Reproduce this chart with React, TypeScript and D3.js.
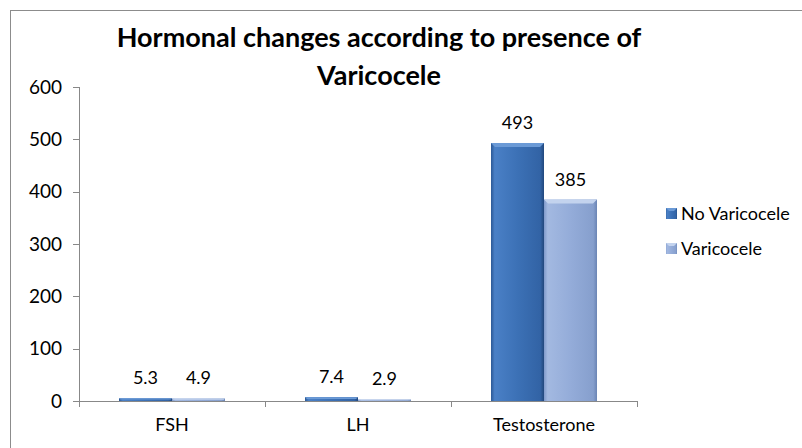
import React from "react";
import * as d3 from "d3";

const categories = ["FSH", "LH", "Testosterone"];
const seriesNames = ["No Varicocele", "Varicocele"];
const noVaricocele = [5.3, 7.4, 493];
const varicocele = [4.9, 2.9, 385];
const valueLabels = [["5.3", "7.4", "493"], ["4.9", "2.9", "385"]];
const yTicks = [0, 100, 200, 300, 400, 500, 600];
const titleLines = ["Hormonal changes according to presence of", "Varicocele"];

const W = 802;
const H = 448;
const plot = { left: 79, right: 637, top: 87, bottom: 401 };
const FONT = "Lato, 'Open Sans', sans-serif";

export default function App() {
  const series = [noVaricocele, varicocele];
  const x = d3.scaleBand<string>().domain(categories).range([plot.left, plot.right]).paddingInner(0).paddingOuter(0);
  const inner = d3.scaleBand<number>().domain([0, 1]).range([0, x.bandwidth()]).paddingOuter(0.755).paddingInner(0);
  const y = d3.scaleLinear().domain([0, 600]).range([plot.bottom, plot.top]);
  const fills = ["url(#gDark)", "url(#gLight)"];
  const tops = ["#6b9ad6", "#c3d3ee"];
  const boundaries = [...categories.map((c) => x(c) as number), plot.right];

  return (
    <svg width={W} height={H} style={{ position: "absolute", left: 0, top: 0, background: "#fff" }}>
      <defs>
        <linearGradient id="gDark" x1="0" x2="1" y1="0" y2="0">
          <stop offset="0" stopColor="#2b5895" />
          <stop offset="0.07" stopColor="#4a80c6" />
          <stop offset="0.5" stopColor="#3c71b6" />
          <stop offset="0.93" stopColor="#3263a5" />
          <stop offset="1" stopColor="#22487d" />
        </linearGradient>
        <linearGradient id="gLight" x1="0" x2="1" y1="0" y2="0">
          <stop offset="0" stopColor="#7f9acb" />
          <stop offset="0.07" stopColor="#a3b9e1" />
          <stop offset="0.5" stopColor="#94acd9" />
          <stop offset="0.93" stopColor="#869fcd" />
          <stop offset="1" stopColor="#6a84b4" />
        </linearGradient>
      </defs>
      <rect x={10.5} y={10.5} width={W + 20} height={H + 20} fill="#fff" stroke="#8c8c8c" strokeWidth={1} />
      <g fontFamily={FONT} fontWeight={700} fontSize={27} fill="#000" textAnchor="middle">
        {titleLines.map((t, i) => (
          <text key={i} x={379} y={47 + i * 38}>{t}</text>
        ))}
      </g>
      {/* axes */}
      <line x1={plot.left + 0.5} x2={plot.left + 0.5} y1={plot.top} y2={plot.bottom} stroke="#888" />
      <line x1={plot.left} x2={plot.right} y1={plot.bottom + 0.5} y2={plot.bottom + 0.5} stroke="#888" />
      {yTicks.map((t) => (
        <g key={t}>
          <line x1={plot.left - 6} x2={plot.left} y1={Math.round(y(t)) + 0.5} y2={Math.round(y(t)) + 0.5} stroke="#888" />
          <text x={62} y={y(t) + 6.5} textAnchor="end" fontFamily={FONT} fontSize={19} fill="#000">{t}</text>
        </g>
      ))}
      {boundaries.map((b, i) => (
        <line key={i} x1={Math.round(b) + 0.5} x2={Math.round(b) + 0.5} y1={plot.bottom} y2={plot.bottom + 6} stroke="#888" />
      ))}
      {categories.map((c) => (
        <text key={c} x={(x(c) as number) + x.bandwidth() / 2} y={431} textAnchor="middle" fontFamily={FONT} fontSize={18} fill="#000">{c}</text>
      ))}
      {/* bars */}
      {categories.map((c, ci) =>
        series.map((s, si) => {
          const bx = (x(c) as number) + (inner(si) as number);
          const bw = inner.bandwidth();
          const by = y(s[ci]);
          const bh = plot.bottom - by;
          const bev = Math.min(4, bh / 2);
          return (
            <g key={c + si}>
              <rect x={bx} y={by} width={bw} height={bh} fill={fills[si]} />
              <polygon
                points={`${bx},${by} ${bx + bw},${by} ${bx + bw - bev},${by + bev} ${bx + bev},${by + bev}`}
                fill={tops[si]}
              />
              <text x={bx + bw / 2} y={by - 14} textAnchor="middle" fontFamily={FONT} fontSize={18} fill="#000">
                {valueLabels[si][ci]}
              </text>
            </g>
          );
        })
      )}
      {/* legend */}
      {seriesNames.map((n, i) => (
        <g key={n}>
          <rect x={666} y={208 + i * 35} width={11} height={11} fill={fills[i]} />
          <polygon points={`666,${208 + i * 35} 677,${208 + i * 35} 674,${211 + i * 35} 669,${211 + i * 35}`} fill={tops[i]} />
          <text x={681} y={220 + i * 35} fontFamily={FONT} fontSize={18} fill="#000">{n}</text>
        </g>
      ))}
    </svg>
  );
}
